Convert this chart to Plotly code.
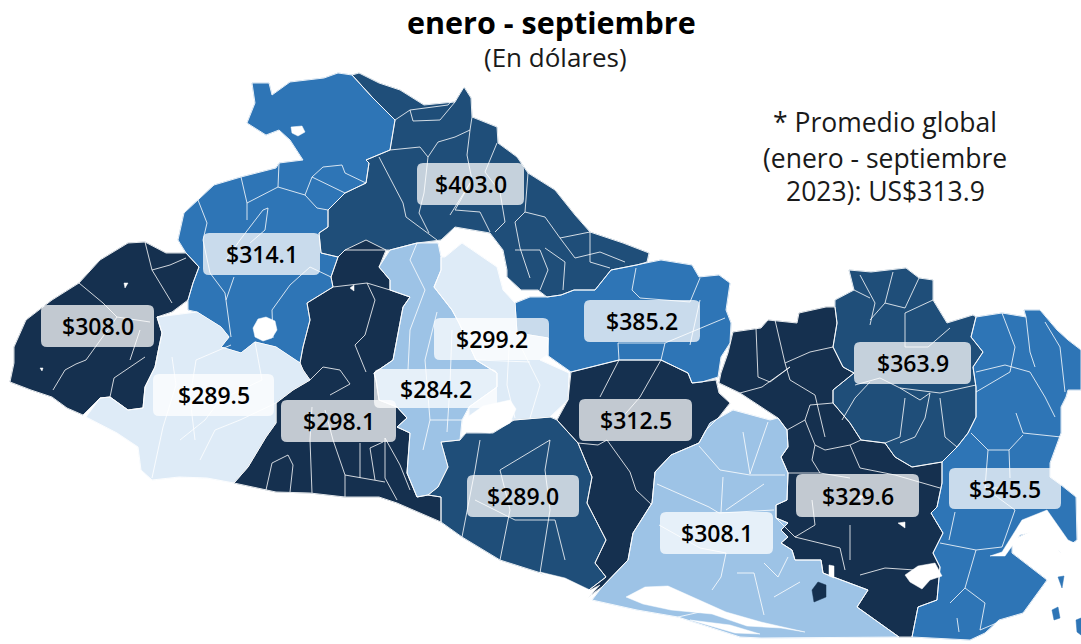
import plotly.graph_objects as go

title = "enero - septiembre"
subtitle = "(En dólares)"
note_lines = ["* Promedio global", "(enero - septiembre", "2023): US$313.9"]

departments = ["Ahuachapán", "Sonsonate", "Santa Ana", "Chalatenango", "La Libertad", "San Salvador",
               "Cuscatlán", "La Paz", "San Vicente", "Cabañas", "San Miguel", "Morazán", "La Unión", "Usulután"]
values = [308.0, 289.5, 314.1, 403.0, 298.1, 284.2, 299.2, 289.0, 312.5, 385.2, 329.6, 363.9, 345.5, 308.1]
tiers = [4, 0, 2, 3, 4, 1, 0, 3, 4, 2, 4, 3, 2, 1]
tier_colors = ["#DEEBF7", "#9DC3E6", "#2E75B6", "#1F4E79", "#15304F"]

# Map outlines (lon/lat replaced by the picture's plane)
ahuachapan = [(128,243),(145,242),(166,253),(186,253),(199,267),(193,283),(188,300),(172,312),(157,317),(162,333),(159,347),(155,367),(145,387),(143,408),(128,410),(110,397),(100,398),(83,415),(67,408),(52,397),(31,390),(10,382),(14,363),(14,347),(26,320),(52,300),(79,283),(100,260)]
sonsonate = [(157,317),(197,312),(221,327),(229,337),(221,347),(241,353),(255,342),(276,347),(300,363),(303,370),(310,380),(293,390),(276,403),(276,423),(266,437),(248,467),(234,483),(207,478),(179,477),(152,480),(141,470),(138,447),(117,433),(86,417),(100,398),(110,397),(128,410),(143,408),(145,387),(155,367),(159,347),(162,333)]
santa_ana = [(214,185),(241,177),(276,168),(279,163),(303,160),(290,140),(279,130),(266,135),(247,123),(255,103),(252,83),(269,83),(272,95),(290,82),(324,78),(338,73),(352,75),(372,97),(395,120),(390,150),(366,160),(369,163),(366,183),(345,193),(328,210),(328,227),(319,233),(321,253),(338,257),(331,277),(333,287),(307,303),(310,320),(303,347),(300,363),(276,347),(255,342),(241,353),(221,347),(229,337),(221,327),(197,312),(188,310),(188,300),(193,283),(199,267),(186,253),(178,240),(184,213),(198,200)]
chalatenango = [(352,75),(359,73),(379,83),(400,90),(424,105),(455,102),(464,87),(471,98),(472,117),(497,127),(498,143),(517,157),(528,173),(555,190),(575,215),(590,232),(623,243),(649,253),(647,262),(637,265),(611,270),(595,290),(574,290),(561,295),(547,297),(538,290),(521,290),(507,277),(507,270),(503,250),(490,233),(455,227),(441,240),(417,243),(390,250),(345,250),(338,257),(321,253),(319,233),(328,227),(328,210),(345,193),(366,183),(369,163),(366,160),(390,150),(395,120),(372,97)]
la_libertad = [(345,250),(366,240),(386,250),(379,267),(390,280),(390,290),(410,297),(403,307),(393,360),(374,373),(376,380),(379,400),(397,407),(407,418),(397,427),(410,433),(407,473),(417,497),(428,495),(441,497),(441,522),(421,513),(397,503),(379,497),(345,497),(310,493),(276,492),(234,483),(248,467),(266,437),(276,423),(276,403),(293,390),(310,380),(303,370),(300,363),(303,347),(310,320),(307,303),(333,287),(331,277),(338,257)]
san_salvador = [(390,250),(417,243),(438,243),(441,257),(441,270),(434,287),(452,310),(459,323),(476,360),(497,373),(497,387),(469,407),(462,420),(460,440),(441,442),(448,467),(438,487),(428,495),(417,497),(407,473),(410,433),(397,427),(407,418),(397,407),(379,400),(376,380),(374,373),(393,360),(403,307),(410,297),(390,290),(390,280),(379,267)]
cuscatlan = [(441,257),(445,257),(462,243),(497,267),(503,290),(515,303),(517,333),(548,338),(547,355),(540,360),(569,373),(568,400),(550,417),(514,420),(469,420),(469,407),(497,387),(497,373),(476,360),(459,323),(452,310),(434,287),(441,270)]
la_paz = [(441,442),(460,440),(466,433),(493,433),(514,420),(550,417),(557,420),(578,443),(592,477),(587,503),(606,540),(595,563),(606,577),(585,593),(541,573),(500,560),(462,537),(441,522),(441,497),(428,495),(438,487),(448,467)]
san_vicente = [(571,372),(619,360),(661,360),(688,373),(692,383),(716,380),(719,393),(730,403),(719,417),(706,430),(699,443),(671,455),(655,472),(652,503),(633,533),(628,560),(602,587),(588,597),(585,593),(606,577),(595,563),(606,540),(587,503),(592,477),(578,443),(557,420),(568,400)]
cabanas = [(515,303),(530,297),(547,297),(561,295),(574,290),(595,290),(611,270),(637,265),(661,260),(692,265),(699,277),(719,275),(730,283),(726,310),(731,323),(730,343),(721,357),(718,377),(702,382),(692,383),(688,373),(661,360),(619,360),(571,372),(547,355),(548,338),(517,333)]
san_miguel = [(721,373),(728,353),(733,332),(761,328),(768,320),(797,323),(799,313),(826,307),(835,307),(837,323),(833,347),(843,367),(854,373),(833,390),(833,403),(850,423),(861,440),(885,443),(895,457),(912,467),(942,462),(942,483),(937,507),(931,513),(943,533),(933,553),(940,567),(937,600),(918,607),(912,637),(899,637),(885,627),(857,607),(868,590),(833,577),(823,573),(821,560),(795,560),(792,550),(781,543),(788,537),(781,530),(788,523),(776,518),(776,505),(787,500),(788,473),(781,457),(788,447),(787,430),(778,418),(761,407),(740,393),(719,383)]
morazan = [(849,270),(871,272),(906,268),(919,278),(933,280),(933,300),(947,323),(973,315),(976,317),(971,337),(983,352),(973,367),(976,387),(976,417),(968,433),(957,447),(942,462),(912,467),(895,457),(885,443),(861,440),(850,423),(833,403),(833,390),(854,373),(843,367),(833,347),(837,323),(835,307),(835,300),(854,290)]
la_union = [(976,317),(1002,313),(1026,317),(1024,310),(1040,310),(1057,330),(1068,340),(1081,350),(1081,390),(1068,390),(1066,397),(1061,407),(1061,433),(1050,463),(1050,477),(1061,485),(1076,497),(1077,540),(1060,552),(1050,530),(1037,528),(1012,540),(1012,553),(1047,580),(1023,613),(999,620),(985,633),(970,640),(912,637),(918,607),(937,600),(940,567),(933,553),(943,533),(931,513),(937,507),(942,483),(942,462),(957,447),(968,433),(976,417),(976,387),(973,367),(983,352),(971,337)]
usulutan = [(699,443),(710,423),(733,410),(753,415),(770,420),(778,418),(787,430),(788,447),(781,457),(788,473),(787,500),(776,505),(776,518),(788,523),(781,530),(788,537),(781,543),(792,550),(795,560),(821,560),(823,573),(833,577),(868,590),(857,607),(885,627),(899,637),(761,638),(740,637),(678,617),(637,610),(592,600),(602,587),(628,560),(633,533),(652,503),(655,472),(671,455)]
outlines = [ahuachapan, sonsonate, santa_ana, chalatenango, la_libertad, san_salvador, cuscatlan,
            la_paz, san_vicente, cabanas, san_miguel, morazan, la_union, usulutan]

# Municipal borders inside the departments
municipal_lines = [
    [(241,177),(247,203),(247,220)], [(279,163),(278,187)], [(247,203),(278,187),(305,195),(317,208),(328,210)],
    [(312,177),(323,167),(342,165),(345,173),(366,183)], [(305,195),(312,177)], [(312,177),(345,193)],
    [(198,200),(207,223),(203,240),(210,273),(225,293),(231,337)], [(234,277),(226,300)], [(273,338),(272,310),(290,285),(310,267),(331,277)],
    [(253,223),(263,210),(268,208),(265,230),(250,243)], [(226,260),(240,240),(253,223)],
    [(145,242),(152,270),(172,303)], [(152,270),(170,265),(186,258)], [(79,283),(103,303),(117,317),(86,360),(76,364),(65,370),(53,390)],
    [(117,317),(150,322)], [(145,357),(114,378),(110,397)], [(140,330),(130,360)],
    [(395,120),(410,110),(448,105),(464,87)], [(410,110),(413,121),(440,120),(455,102)],
    [(390,150),(420,147),(428,157),(438,142),(455,137),(470,130),(472,117)], [(379,157),(403,203),(406,217),(437,240)],
    [(428,157),(424,193),(419,213),(429,233)], [(470,130),(467,155),(472,180),(450,215)], [(472,180),(455,210),(480,212),(490,232)],
    [(497,143),(485,172),(500,192),(505,222),(495,232)], [(528,173),(525,212),(515,222),(520,248),(530,278)],
    [(525,212),(545,217),(560,238),(590,232)], [(545,248),(565,262),(563,290)], [(590,232),(590,262),(610,268)],
    [(560,238),(575,258),(600,252)], [(515,250),(540,250),(548,270),(540,290)], [(600,252),(625,262)],
    [(333,287),(367,283),(390,290)], [(367,283),(375,300),(365,335),(355,345),(366,372)], [(310,380),(323,367),(340,370),(350,384),(330,395)],
    [(266,490),(272,463),(288,455),(293,465),(290,492)], [(312,493),(310,440),(312,407)], [(345,497),(345,475),(333,440),(325,410)],
    [(345,475),(385,482)], [(360,478),(360,443)], [(375,480),(370,448),(383,442)], [(397,500),(385,478),(385,438),(400,465),(410,490)],
    [(172,357),(176,385),(163,427),(152,478)], [(180,440),(205,420),(220,400)], [(231,345),(196,360),(190,398),(195,440)],
    [(200,460),(215,430),(240,420),(276,403)], [(255,342),(262,380),(220,400)],
    [(417,243),(410,260),(425,290),(410,330),(408,370)], [(437,312),(425,360),(430,420),(423,450)], [(452,330),(450,385),(447,432)],
    [(430,420),(447,420),(462,420)], [(510,330),(507,385),(515,418)], [(476,360),(530,362)], [(520,345),(540,385),(530,418)],
    [(636,268),(632,290),(640,298),(690,302),(700,278)], [(700,300),(690,345)], [(619,360),(618,343),(665,343),(661,360)], [(665,343),(725,318)],
    [(619,360),(600,397)], [(661,360),(640,397),(620,420)], [(578,443),(598,445),(607,440),(630,472),(636,490),(652,505)],
    [(480,440),(475,470),(462,537)], [(500,470),(510,510),(500,560)], [(550,440),(545,470),(550,510),(540,573)], [(500,470),(550,440)],
    [(515,520),(555,520),(565,560)], [(475,500),(515,520)],
    [(756,328),(758,377),(770,382),(790,367)], [(775,320),(780,343),(785,363),(810,352),(833,347)], [(785,363),(790,380),(815,395),(825,437)],
    [(790,367),(762,387),(740,393)], [(787,430),(805,420),(810,405),(833,403)], [(805,420),(815,445),(825,450),(850,445),(861,440)],
    [(815,445),(812,460),(820,473),(850,478)], [(850,445),(860,468)], [(788,473),(820,473)], [(812,500),(815,525),(795,537),(776,518)],
    [(795,537),(840,548),(845,570)], [(860,575),(885,568),(915,570),(925,585)], [(850,525),(850,560)], [(860,468),(895,475),(940,488)],
    [(860,275),(875,303),(870,325)], [(893,272),(885,303)], [(919,278),(905,308),(885,303),(870,320)], [(933,300),(905,313),(905,347),(928,347),(950,328)],
    [(854,290),(870,298)], [(855,385),(880,378),(900,388),(940,393),(976,385)], [(905,398),(900,437),(885,443)], [(930,393),(925,418),(915,437),(900,443)],
    [(940,398),(945,437),(957,447)], [(870,382),(855,398),(842,420)], [(900,388),(920,400),(930,393)],
    [(976,372),(1005,365),(1030,372),(1045,397),(1055,417)], [(1002,313),(1015,347),(1010,372),(976,392)], [(1026,317),(1030,352),(1035,367)],
    [(1045,322),(1060,347),(1065,392)], [(1016,413),(1023,433),(1061,437)], [(971,433),(988,450),(1009,450),(1023,435)],
    [(988,450),(985,488),(1000,488)], [(1009,450),(1010,478)], [(955,512),(949,540)], [(940,543),(976,550),(1002,547)],
    [(976,550),(965,588),(985,603),(980,630),(999,622)], [(950,603),(965,588)], [(957,618),(959,632)], [(985,488),(1015,510),(1002,547)],
    [(699,446),(720,470),(750,475),(785,475)], [(743,432),(750,474),(768,422)], [(723,477),(721,512)], [(657,484),(709,507),(719,513),(774,510)],
    [(764,484),(726,510)], [(659,525),(700,548),(726,553),(721,577)], [(737,573),(754,573),(764,615)], [(764,563),(778,577),(788,557)],
    [(774,597),(800,582)], [(721,577),(712,590)], [(678,617),(700,612)],
]

# White water bodies and gaps that sit on top of the departments
water = [
    [(469,416),(483,406),(510,400),(516,409),(510,423),(490,433),(472,431),(466,423)],
    [(253,328),(258,319),(266,317),(275,321),(277,330),(272,338),(263,341),(255,337)],
    [(291,127),(302,126),(305,132),(298,136),(292,133)],
    [(905,575),(918,566),(935,563),(942,576),(930,580),(922,589),(910,582)],
    [(626,597),(645,587),(668,586),(695,598),(726,612),(761,622),(805,632),(781,628),(747,626),(712,614),(671,610),(643,604)],
    [(690,620),(730,625),(760,634),(735,633)],
    [(990,556),(1002,552),(1022,520),(1047,510),(1068,540),(1081,546),(1081,556),(1060,552),(1040,530),(1020,535),(1005,556)],
    [(350,288),(354,285),(354,291)], [(124,283),(128,283),(125,288)], [(40,368),(43,368),(42,371)],
    [(898,523),(905,522),(905,528)], [(856,495),(864,496),(860,500)],
    [(829,565),(834,566),(834,578),(829,576)],
    [(540,572),(565,578),(590,590),(600,585),(588,598),(565,590)],
]
islets = [
    [(812,590),(818,582),(826,585),(826,597),(814,602)],
    [(1052,610),(1058,607),(1060,618),(1054,620)],
    [(1058,577),(1064,576),(1062,588)],
    [(1076,620),(1081,618),(1081,635),(1077,632)],
]
islet_tiers = [4, 2, 2, 2]

label_boxes = [(41,305,154,347),(153,374,274,416),(203,233,320,275),(417,163,524,205),(281,400,396,442),(374,369,497,408),
               (434,318,549,360),(467,475,579,517),(579,399,692,441),(584,300,700,342),(796,474,919,517),(854,342,971,384),(949,468,1061,509),(660,512,773,554)]


def rounded(x0, y0, x1, y1, r=6):
    return (f"M{x0+r},{y0} L{x1-r},{y0} Q{x1},{y0} {x1},{y0+r} L{x1},{y1-r} Q{x1},{y1} {x1-r},{y1} "
            f"L{x0+r},{y1} Q{x0},{y1} {x0},{y1-r} L{x0},{y0+r} Q{x0},{y0} {x0+r},{y0} Z")


fig = go.Figure()


def polygon(points, fill, line_color, width):
    xs = [p[0] for p in points] + [points[0][0]]
    ys = [p[1] for p in points] + [points[0][1]]
    fig.add_trace(go.Scatter(x=xs, y=ys, mode="lines", fill="toself", fillcolor=fill,
                             line=dict(color=line_color, width=width), hoverinfo="skip", showlegend=False))


for outline, tier in zip(outlines, tiers):
    polygon(outline, tier_colors[tier], tier_colors[tier], 0.5)

for polyline in municipal_lines:
    fig.add_trace(go.Scatter(x=[p[0] for p in polyline], y=[p[1] for p in polyline], mode="lines",
                             line=dict(color="rgba(255,255,255,0.8)", width=1), hoverinfo="skip", showlegend=False))

for outline in outlines:
    fig.add_trace(go.Scatter(x=[p[0] for p in outline] + [outline[0][0]], y=[p[1] for p in outline] + [outline[0][1]],
                             mode="lines", line=dict(color="rgba(255,255,255,0.85)", width=1), hoverinfo="skip", showlegend=False))

for shape_points in water:
    polygon(shape_points, "#FFFFFF", "#FFFFFF", 0.5)
for shape_points, tier in zip(islets, islet_tiers):
    polygon(shape_points, tier_colors[tier], tier_colors[tier], 0.5)

shapes = [dict(type="path", path=rounded(*b), fillcolor="rgba(255,255,255,0.74)", line=dict(width=0), layer="above")
          for b in label_boxes]

annotations = []
for v, b in zip(values, label_boxes):
    annotations.append(dict(x=(b[0] + b[2]) / 2, y=(b[1] + b[3]) / 2, text=f"${v:.1f}", showarrow=False,
                            font=dict(family="Open Sans", size=23, weight=600, color="#000000")))
annotations.append(dict(x=551, y=22, text=f"<b>{title}</b>", showarrow=False, font=dict(family="Open Sans", size=30.5, color="#000000")))
annotations.append(dict(x=555, y=57, text=subtitle, showarrow=False, font=dict(family="Open Sans", size=26, color="#1a1a1a")))
for line, yy, xx in zip(note_lines, [122, 158, 191], [885, 885, 885]):
    annotations.append(dict(x=xx, y=yy, text=line, showarrow=False, font=dict(family="Open Sans", size=26.5, color="#1a1a1a")))

fig.update_layout(width=1081, height=644, margin=dict(l=0, r=0, t=0, b=0), paper_bgcolor="white", plot_bgcolor="white",
                  xaxis=dict(range=[0, 1081], visible=False, fixedrange=True),
                  yaxis=dict(range=[644, 0], visible=False, fixedrange=True),
                  shapes=shapes, annotations=annotations)
fig.write_html("out.html", config=dict(displayModeBar=False),
               post_script="document.body.style.margin='0';document.documentElement.style.overflow='hidden';")
